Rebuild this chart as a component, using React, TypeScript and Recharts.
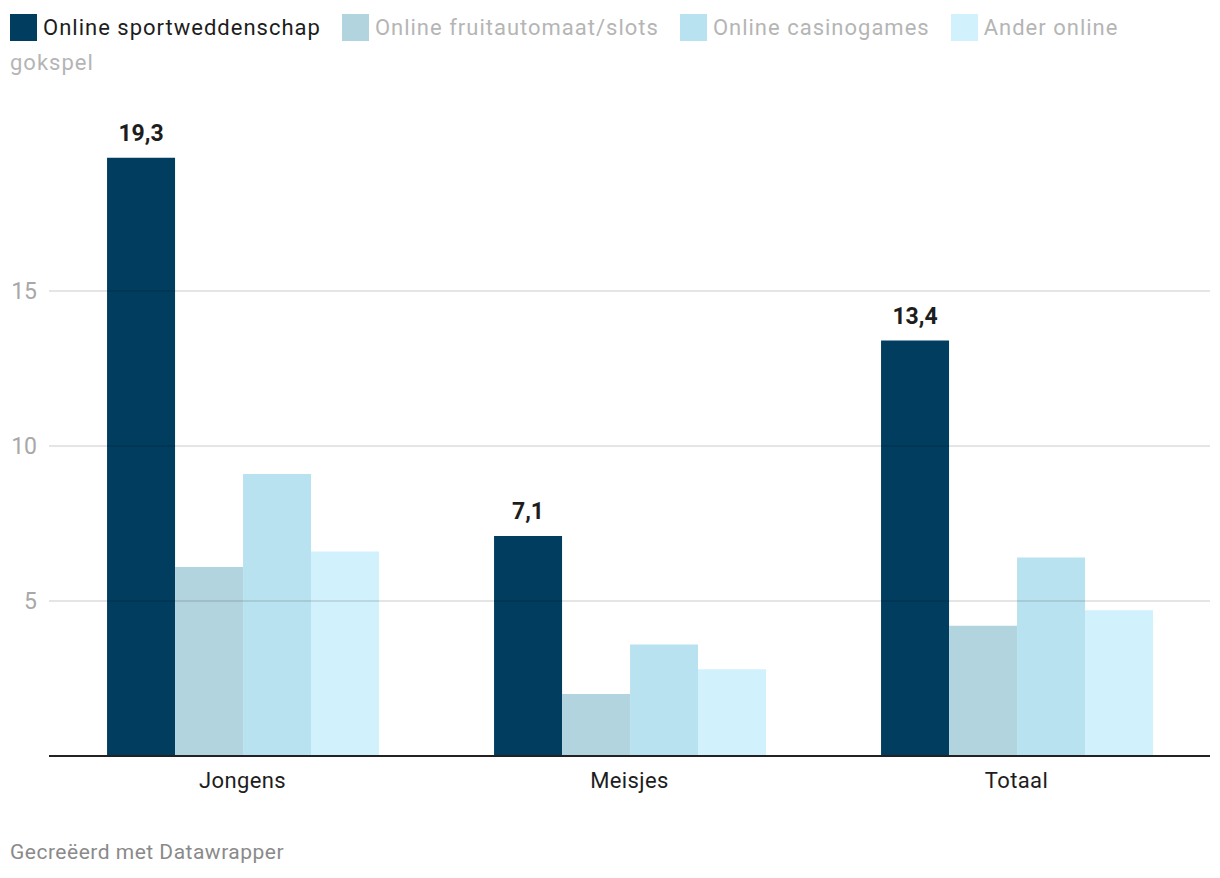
import React from "react";
import { BarChart, Bar, XAxis, YAxis, ReferenceLine, LabelList } from "recharts";

const categories = ["Jongens", "Meisjes", "Totaal"];
const sportweddenschap = [19.3, 7.1, 13.4];
const fruitautomaat = [6.1, 2.0, 4.2];
const casinogames = [9.1, 3.6, 6.4];
const anderOnline = [6.6, 2.8, 4.7];
const yTicks = [5, 10, 15];

const series = [
  { key: "sport", name: "Online sportweddenschap", color: "#013d5f", text: "#1d1d1d" },
  { key: "fruit", name: "Online fruitautomaat/slots", color: "#b2d4df", text: "#b5b5b5" },
  { key: "casino", name: "Online casinogames", color: "#b8e2f0", text: "#b5b5b5" },
  { key: "ander", name: "Ander online gokspel", color: "#d1f1fc", text: "#b5b5b5" },
];

const data = categories.map((c, i) => ({
  cat: c,
  sport: sportweddenschap[i],
  fruit: fruitautomaat[i],
  casino: casinogames[i],
  ander: anderOnline[i],
}));

const font = "Roboto, 'Noto Sans', sans-serif";

export default function App() {
  return (
    <div
      style={{
        position: "absolute",
        left: 0,
        top: 0,
        width: 1220,
        height: 878,
        background: "#fff",
        fontFamily: font,
      }}
    >
      <div
        style={{
          position: "absolute",
          left: 10,
          top: 10,
          width: 1150,
          fontSize: 22,
          lineHeight: "35px",
          letterSpacing: 1,
        }}
      >
        {series.map((s, i) => (
          <React.Fragment key={s.key}>
            <span
              style={{
                display: "inline-block",
                width: 27,
                height: 27,
                background: s.color,
                verticalAlign: -6,
                marginLeft: i === 0 ? 0 : 21,
                marginRight: 6,
              }}
            />
            {/* one span per word so a wrapped name doesn't get a huge box */}
            {s.name.split(" ").map((w, j) => (
              <React.Fragment key={j}>
                {j > 0 && " "}
                <span style={{ color: s.text }}>{w}</span>
              </React.Fragment>
            ))}
          </React.Fragment>
        ))}
      </div>

      <BarChart
        width={1220}
        height={878}
        data={data}
        margin={{ top: 136, right: 10, bottom: 82, left: 8 }}
        barCategoryGap="15%"
        barGap={0}
        style={{ position: "absolute", left: 0, top: 0 }}
      >
        <XAxis
          dataKey="cat"
          height={40}
          tickLine={false}
          tickSize={0}
          tickMargin={16}
          axisLine={{ stroke: "#222", strokeWidth: 2 }}
          tick={{ fill: "#1d1d1d", fontSize: 22, fontFamily: font, letterSpacing: 0.4 }}
        />
        <YAxis
          width={41}
          domain={[0, 20]}
          ticks={yTicks}
          axisLine={false}
          tickLine={false}
          tickSize={0}
          tickMargin={12}
          tick={{ fill: "#a8a8a8", fontSize: 23, fontFamily: font }}
        />
        {series.map((s, i) => (
          <Bar key={s.key} dataKey={s.key} name={s.name} fill={s.color} isAnimationActive={false}>
            {i === 0 && (
              <LabelList
                dataKey={s.key}
                position="top"
                offset={17}
                formatter={(v: any) => String(v).replace(".", ",")}
                style={{ fill: "#1d1d1d", fontSize: 23, fontWeight: 700, fontFamily: font }}
              />
            )}
          </Bar>
        ))}
        {yTicks.map((t) => (
          <ReferenceLine key={t} y={t} stroke="#000" strokeOpacity={0.1} strokeWidth={2} />
        ))}
      </BarChart>

      <div
        style={{
          position: "absolute",
          left: 10,
          top: 839,
          fontSize: 21,
          color: "#8a8a8a",
          lineHeight: "26px",
          letterSpacing: 0.5,
        }}
      >
        Gecreëerd met Datawrapper
      </div>
    </div>
  );
}
